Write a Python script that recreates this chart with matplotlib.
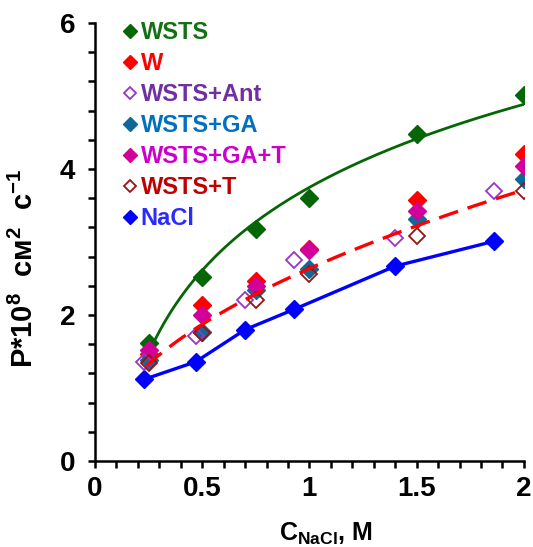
import numpy as np
import matplotlib
matplotlib.use('Agg')
import matplotlib.pyplot as plt
from matplotlib.ticker import MultipleLocator
from matplotlib.lines import Line2D

plt.rcParams['font.family'] = ['Liberation Sans', 'DejaVu Sans']
plt.rcParams['font.weight'] = 'bold'
plt.rcParams['mathtext.fontset'] = 'custom'
plt.rcParams['mathtext.rm'] = 'Liberation Sans:bold'
plt.rcParams['mathtext.it'] = 'Liberation Sans:bold'
plt.rcParams['mathtext.bf'] = 'Liberation Sans:bold'

# data
x_main = [0.25, 0.5, 0.75, 1.0, 1.5, 2.0]
x_nacl = [0.23, 0.47, 0.70, 0.93, 1.40, 1.86]

wsts = [1.62, 2.52, 3.18, 3.60, 4.48, 5.01]
w = [1.47, 2.14, 2.47, 2.90, 3.58, 4.21]
wsts_ant = [1.36, 1.72, 2.20, 2.75, 3.06, 3.70]
wsts_ga = [1.38, 1.77, 2.35, 2.63, 3.32, 3.87]
wsts_ga_t = [1.52, 2.00, 2.40, 2.89, 3.43, 4.04]
wsts_t = [1.34, 1.76, 2.20, 2.56, 3.08, 3.70]
nacl = [1.12, 1.36, 1.80, 2.08, 2.67, 3.01]

names = ['WSTS', 'W', 'WSTS+Ant', 'WSTS+GA', 'WSTS+GA+T', 'WSTS+T', 'NaCl']
marker_colors = ['#066606', '#ff0000', '#9933cc', '#0d6a96', '#d1009b', '#9b1111', '#0000ff']
text_colors = ['#137013', '#ff0000', '#7030a0', '#0070c0', '#cc00cc', '#c00000', '#2b2bff']
filled = [True, True, False, True, True, False, True]

fig = plt.figure(figsize=(5.33, 5.47), dpi=100)
ax = fig.add_axes([0.178, 0.157, 0.805, 0.801])

series = [(x_main, wsts), (x_main, w), (x_nacl, wsts_ant), (x_main, wsts_ga),
          (x_main, wsts_ga_t), (x_main, wsts_t), (x_nacl, nacl)]

# trend lines
xs = np.linspace(0.25, 2.0, 200)
k, b = np.polyfit(np.log(x_main), wsts, 1)
ax.plot(xs, k * np.log(xs) + b, color='#066606', lw=2.0, zorder=3)

px = np.log(np.array(x_nacl + x_main + x_main))
py = np.log(np.array(wsts_ant + wsts_t + wsts_ga))
pk, pb = np.polyfit(px, py, 1)
xd = np.linspace(0.24, 2.0, 200)
ax.plot(xd, np.exp(pb) * xd ** pk, color='#ff0000', lw=2.4, dashes=(6, 3), zorder=6)

ax.plot(x_nacl, nacl, color='#0000ff', lw=2.4, zorder=3)

for i, (xx, yy) in enumerate(series):
    c = marker_colors[i]
    if filled[i]:
        ax.plot(xx, yy, 'D', ms=9, color=c, mec=c, ls='none', zorder=4)
    else:
        ax.plot(xx, yy, 'D', ms=8, mfc='none', mec=c, mew=1.3, ls='none', zorder=5)

handles = []
for i in range(len(names)):
    c = marker_colors[i]
    if filled[i]:
        h = Line2D([], [], marker='D', ms=7.5, color=c, ls='none')
    else:
        h = Line2D([], [], marker='D', ms=6.5, mfc='none', mec=c, mew=1.3, ls='none')
    handles.append(h)
leg = ax.legend(handles, names, loc='upper left', bbox_to_anchor=(0.03, 1.042),
                frameon=False, fontsize=17, handlelength=0.5, handletextpad=0.2,
                labelspacing=0.34, borderpad=0.2)
for t, c in zip(leg.get_texts(), text_colors):
    t.set_color(c)
    t.set_fontweight('bold')

ax.set_xlim(0, 2)
ax.set_ylim(0, 6)
ax.xaxis.set_major_locator(MultipleLocator(0.5))
ax.xaxis.set_minor_locator(MultipleLocator(0.1))
ax.yaxis.set_major_locator(MultipleLocator(2))
ax.yaxis.set_minor_locator(MultipleLocator(0.4))
ax.set_xticks([0, 0.5, 1, 1.5, 2])
ax.set_xticklabels(['0', '0.5', '1', '1.5', '2'])
ax.tick_params(which='both', direction='out', width=1.8, length=5, labelsize=20)
ax.tick_params(axis='x', pad=6)
ax.tick_params(axis='y', pad=9)
for s in ['top', 'right']:
    ax.spines[s].set_visible(False)
for s in ['left', 'bottom']:
    ax.spines[s].set_linewidth(1.8)

ax.set_xlabel('C$_{\\mathrm{NaCl}}$, M', fontsize=18, fontweight='bold', va='center')
ax.xaxis.set_label_coords(0.538, -0.165)
ax.set_ylabel('P*10$^{8}$  см$^{2}$  с$^{-1}$', fontsize=21, fontweight='bold', va='center')
ax.yaxis.set_label_coords(-0.165, 0.44)

plt.savefig('out.png', dpi=100)
